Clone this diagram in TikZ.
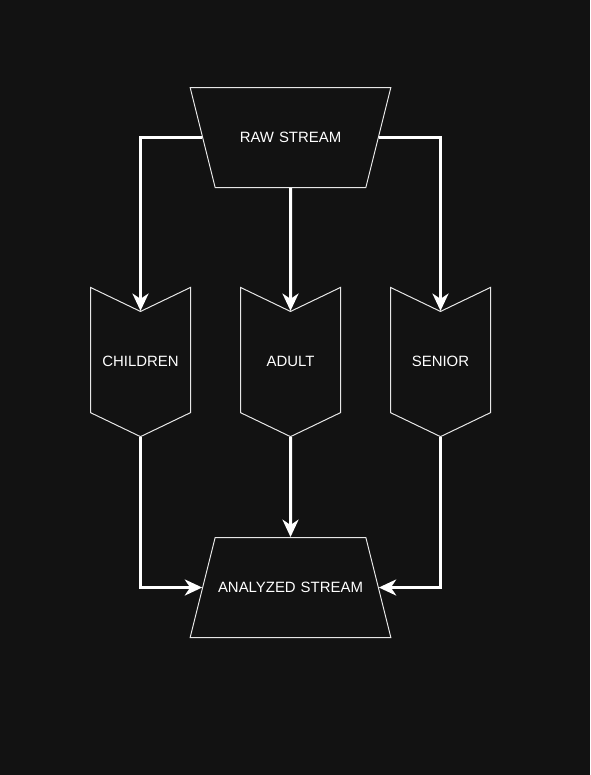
\documentclass[tikz,border=0pt]{standalone}
\usepackage{fontspec}
\setmainfont{Liberation Sans}
\usetikzlibrary{positioning,shapes.geometric,shapes.symbols,arrows.meta}
\definecolor{bg}{HTML}{121212}
\definecolor{edge}{HTML}{E6E6E6}

\tikzstyle{stream} = [trapezium, inner sep=0pt, text width=113pt, align=center, text height=41.5pt, text depth=33.5pt, draw=edge, line width=0.75pt, text=white, font=\fontsize{11.2}{13}\selectfont]
\tikzstyle{rawstream} = [stream, trapezium left angle=104.04, trapezium right angle=104.04]
\tikzstyle{outstream} = [stream, trapezium left angle=75.96, trapezium right angle=75.96]
\tikzstyle{agegroup} = [signal, signal to=south, signal from=north, signal pointer angle=128.7, inner sep=0pt, text width=75pt, align=center, text height=41.6pt, text depth=34.3pt, draw=edge, line width=0.75pt, text=white, font=\fontsize{11.2}{13}\selectfont]
\tikzstyle{arrow} = [white, line width=2.25pt, -{Stealth[length=13pt, width=12pt, inset=4pt]}]

\begin{document}
\begin{tikzpicture}[x=0.75pt, y=-0.75pt, node distance=1cm, on grid]

  \fill[bg] (0,0) rectangle (590,775);
  \useasboundingbox (0,0) rectangle (590,775);

  \node (raw) [rawstream] at (290.5,137.5) {RAW STREAM};
  \node (adult) [agegroup, below=168.4pt of raw] {ADULT};
  \node (children) [agegroup, left=112.5pt of adult] {CHILDREN};
  \node (senior) [agegroup, right=112.5pt of adult] {SENIOR};
  \node (analyzed) [outstream, below=169.1pt of adult] {ANALYZED STREAM};

  % --- %

  \draw [arrow] (raw.west) -| (children.north);
  \draw [arrow] (raw.south) -- (adult.north);
  \draw [arrow] (raw.east) -| (senior.north);

  \draw [arrow] (children.south) |- (analyzed.west);
  \draw [arrow] (adult.south) -- (analyzed.north);
  \draw [arrow] (senior.south) |- (analyzed.east);

\end{tikzpicture}
\end{document}
